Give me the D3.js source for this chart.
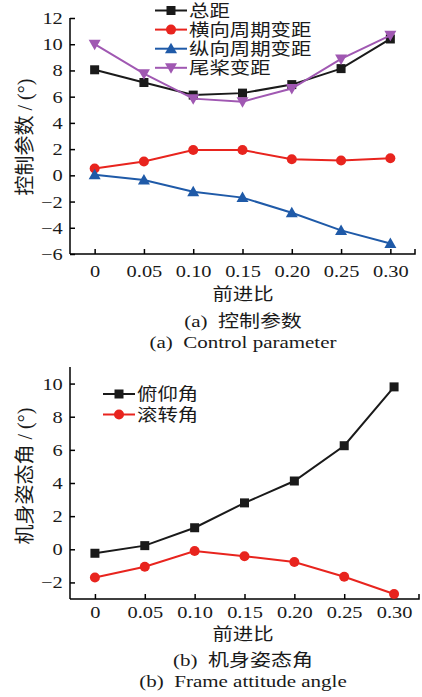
<!DOCTYPE html>
<html>
<head>
<meta charset="utf-8">
<script src="https://cdn.jsdelivr.net/npm/d3@7"></script>
<style>
  body { margin: 0; background: #fff; }
  text { font-family: "Liberation Serif", "Noto Sans CJK SC", serif; fill: #1a1a1a; white-space: pre; }
</style>
</head>
<body>
<div id="chart"></div>
<script>
// data
advance = [0, 0.05, 0.10, 0.15, 0.20, 0.25, 0.30]
tickLabels = ["0", "0.05", "0.10", "0.15", "0.20", "0.25", "0.30"]

collective = [8.05, 7.08, 6.12, 6.27, 6.92, 8.14, 10.4]
lateralCyclic = [0.52, 1.05, 1.93, 1.93, 1.22, 1.13, 1.3]
longCyclic = [0.05, -0.35, -1.25, -1.7, -2.85, -4.2, -5.2]
tailPitch = [10.0, 7.75, 5.85, 5.62, 6.62, 8.88, 10.68]

pitchAngle = [-0.24, 0.22, 1.3, 2.8, 4.12, 6.25, 9.8]
rollAngle = [-1.7, -1.05, -0.1, -0.42, -0.77, -1.66, -2.7]

seriesA = [
  {name: "总距", values: collective, color: "#1a1a1a", marker: "square"},
  {name: "横向周期变距", values: lateralCyclic, color: "#e8241e", marker: "circle"},
  {name: "纵向周期变距", values: longCyclic, color: "#1f5aa8", marker: "up"},
  {name: "尾桨变距", values: tailPitch, color: "#a058b2", marker: "down"}
]
seriesB = [
  {name: "俯仰角", values: pitchAngle, color: "#1a1a1a", marker: "square"},
  {name: "滚转角", values: rollAngle, color: "#e8241e", marker: "circle"}
]

SX = 1.2  // the original's lettering is a bit wide
FONT = '"Liberation Serif", "Noto Sans CJK SC", serif'

svg = d3.select("#chart").append("svg")
  .attr("width", 422).attr("height", 697)

function marker(g, type, color) {
  if (type == "square") {
    g.append("rect").attr("x", -4.5).attr("y", -4.5).attr("width", 9).attr("height", 9).attr("fill", color)
  } else if (type == "circle") {
    g.append("circle").attr("r", 5).attr("fill", color)
  } else if (type == "up") {
    g.append("path").attr("d", "M0,-6L6,4.5L-6,4.5Z").attr("fill", color)
  } else {
    g.append("path").attr("d", "M0,6L6,-4.5L-6,-4.5Z").attr("fill", color)
  }
}

function htext(g, x, y, str, size, anchor) {
  return g.append("text").attr("transform", `translate(${x}, ${y}) scale(${SX}, 1)`)
    .attr("text-anchor", anchor || "middle").style("font-size", size + "px").text(str)
}

function panel(cfg) {
  x = d3.scaleLinear().domain([-0.025, 0.325]).range([70, cfg.right])
  y = d3.scaleLinear().domain(cfg.yDomain).range([cfg.bottom, cfg.top])
  g = svg.append("g")

  // x axis, ticks pointing inward
  xa = g.append("g").attr("transform", `translate(0, ${cfg.bottom})`)
    .attr("font-family", FONT)
    .call(d3.axisBottom(x).tickValues(advance).tickSize(-5).tickPadding(cfg.xPad)
      .tickFormat((d, i) => tickLabels[i]))
  xa.attr("font-family", FONT)
  xa.select(".domain").attr("d", `M70,0H${cfg.right}V-5`).attr("stroke-width", 1.5)
  xa.selectAll("line").attr("stroke-width", 1.5)
  xa.selectAll("text").style("font-size", "17px").style("font-family", FONT).attr("fill", "#1a1a1a")
    .attr("transform", `scale(${SX}, 1)`)

  ya = g.append("g").attr("transform", "translate(70, 0)")
    .call(d3.axisLeft(y).tickValues(cfg.yTicks).tickSize(-5)
      .tickFormat(d => d < 0 ? "\u2212" + Math.abs(d) : d))
  ya.attr("font-family", FONT)
  ya.select(".domain").attr("d", `M0,${cfg.top}V${cfg.bottom}`).attr("stroke-width", 1.5)
  ya.selectAll("line").attr("stroke-width", 1.5)
  ya.selectAll("text").style("font-size", "17px").style("font-family", FONT).attr("fill", "#1a1a1a")
    .attr("x", -6).attr("transform", `scale(${SX}, 1)`)

  line = d3.line().x((d, i) => x(advance[i])).y(d => y(d))
  cfg.series.forEach(s => {
    g.append("path").datum(s.values).attr("d", line)
      .attr("fill", "none").attr("stroke", s.color).attr("stroke-width", 2)
    s.values.forEach((v, i) => {
      marker(g.append("g").attr("transform", `translate(${x(advance[i])}, ${y(v)})`), s.marker, s.color)
    })
  })

  // legend
  cfg.series.forEach((s, i) => {
    ly = cfg.legend.y + i * cfg.legend.dy
    lg = g.append("g").attr("transform", `translate(${cfg.legend.x}, ${ly})`)
    lg.append("line").attr("x1", 0).attr("x2", 32).attr("stroke", s.color).attr("stroke-width", 2)
    marker(lg.append("g").attr("transform", "translate(16, 0)"), s.marker, s.color)
    htext(lg, 34, 0, s.name, 17, "start").attr("dy", "0.36em")
  })

  // axis titles
  g.append("text").attr("transform", `translate(32, ${cfg.ylabelY}) rotate(-90)`)
    .attr("text-anchor", "middle").style("font-size", "20px").text(cfg.ylabel)
  htext(g, 243, cfg.capY[0], "前进比", 17)
  htext(g, 243, cfg.capY[1], cfg.cap1, 17.5)
  htext(g, 243, cfg.capY[2], cfg.cap2, 17.5)
}

panel({
  top: 18, bottom: 254, right: 415, yDomain: [-6, 12],
  yTicks: [-6, -4, -2, 0, 2, 4, 6, 8, 10, 12], xPad: 11,
  series: seriesA,
  legend: {x: 155, y: 10.5, dy: 19.1},
  ylabel: "控制参数 / (°)", ylabelY: 137,
  capY: [300, 327, 348],
  cap1: "(a)  控制参数", cap2: "(a)  Control parameter"
})

panel({
  top: 367, bottom: 599, right: 419, yDomain: [-3, 11],
  yTicks: [-2, 0, 2, 4, 6, 8, 10], xPad: 7,
  series: seriesB,
  legend: {x: 103, y: 394, dy: 20.5},
  ylabel: "机身姿态角 / (°)", ylabelY: 476,
  capY: [640, 666, 687],
  cap1: "(b)  机身姿态角", cap2: "(b)  Frame attitude angle"
})
</script>
</body>
</html>
